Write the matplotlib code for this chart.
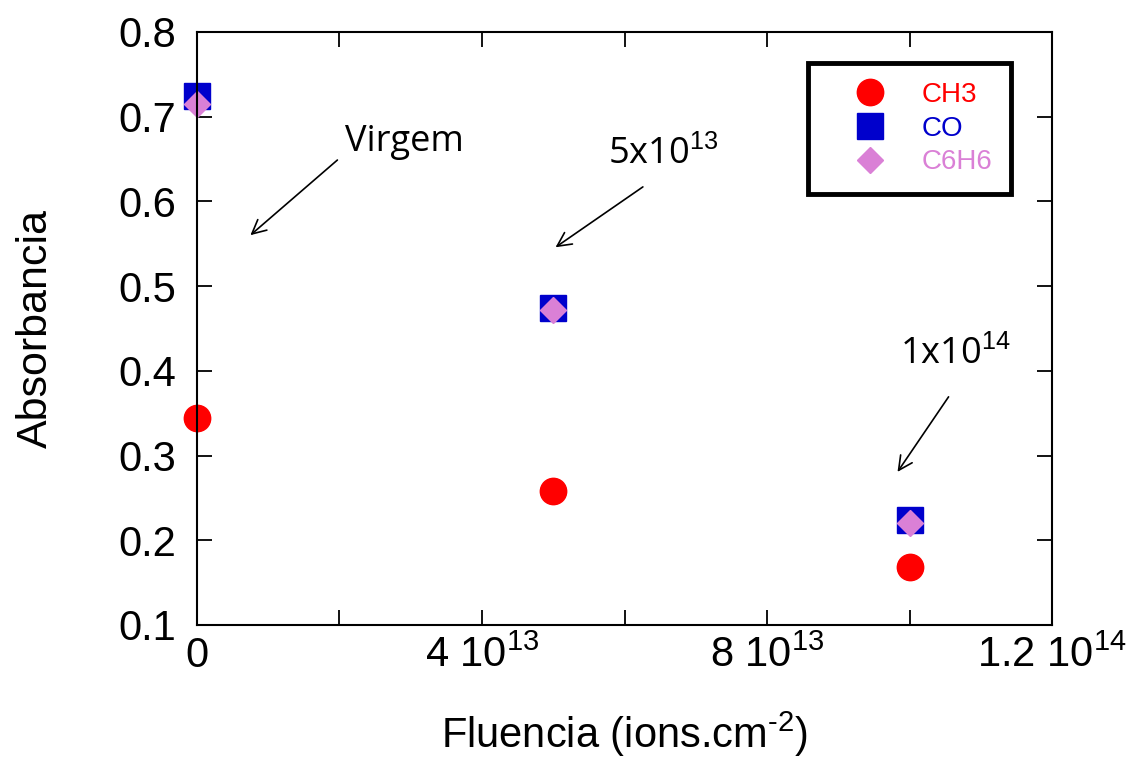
import matplotlib
matplotlib.use("Agg")
import matplotlib.pyplot as plt
from matplotlib import font_manager

names = {f.name for f in font_manager.fontManager.ttflist}
narrow = 'Liberation Sans Narrow' if 'Liberation Sans Narrow' in names else 'Liberation Sans'

# ---- data ----
fluence = [0.0, 5e13, 1e14]
ch3 = [0.344, 0.258, 0.168]
co = [0.724, 0.474, 0.224]
c6h6 = [0.715, 0.472, 0.220]
series_labels = ['CH3', 'CO', 'C6H6']
xtick_vals = [0, 2e13, 4e13, 6e13, 8e13, 1e14, 1.2e14]
xtick_labels = ['0', '', r'4 10$^{13}$', '', r'8 10$^{13}$', '', r'1.2 10$^{14}$']
ytick_vals = [0.1, 0.2, 0.3, 0.4, 0.5, 0.6, 0.7, 0.8]
ytick_labels = ['0.1', '0.2', '0.3', '0.4', '0.5', '0.6', '0.7', '0.8']
annotations = [
    ('Virgem', (7.2e12, 0.558), (2.0e13, 0.651), (2.08e13, 0.670)),
    (r'5x10$^{13}$', (5.0e13, 0.544), (6.29e13, 0.619), (5.77e13, 0.655)),
    (r'1x10$^{14}$', (9.81e13, 0.278), (1.057e14, 0.372), (9.87e13, 0.419)),
]

plt.rcParams['mathtext.fontset'] = 'custom'
plt.rcParams['mathtext.rm'] = narrow
plt.rcParams['mathtext.it'] = narrow

fig = plt.figure(figsize=(11.42, 7.58), dpi=100)
ax = fig.add_axes([0.1725, 0.1755, 0.7487, 0.7823])

ax.plot(fluence, ch3, 'o', color='#ff0000', markersize=19, label=series_labels[0], clip_on=False)
ax.plot(fluence, co, 's', color='#0000cc', markersize=19, label=series_labels[1], clip_on=False)
ax.plot(fluence, c6h6, 'D', color='#da80d6', markersize=13, label=series_labels[2], clip_on=False)

ax.set_xlim(0, 1.2e14)
ax.set_ylim(0.1, 0.8)
ax.set_xticks(xtick_vals)
ax.set_xticklabels(xtick_labels, fontfamily=narrow, fontsize=30)
ax.set_yticks(ytick_vals)
ax.set_yticklabels(ytick_labels, fontfamily=narrow, fontsize=30)
ax.tick_params(direction='in', length=11, width=1.3, top=True, right=True)
ax.tick_params(axis='y', pad=15)
ax.tick_params(axis='x', pad=8)
for s in ax.spines.values():
    s.set_linewidth(1.5)

ax.set_xlabel('Fluencia (ions.cm$^{\\text{-2}}$)', fontfamily=narrow, fontsize=30, labelpad=24)
ax.set_ylabel('Absorbancia', fontfamily=narrow, fontsize=31, labelpad=45)

for text, head, tail, tpos in annotations:
    ax.annotate('', xy=head, xytext=tail,
                arrowprops=dict(arrowstyle='->', color='black', lw=1.2, mutation_scale=25))
    ax.text(tpos[0], tpos[1], text, fontsize=26, fontfamily='Open Sans', va='center', ha='left')

leg = ax.legend(loc='upper left', bbox_to_anchor=(0.7146, 0.9477), borderaxespad=0,
                fancybox=False, edgecolor='black', framealpha=1,
                labelcolor=['#ff0000', '#0000cc', '#da80d6'],
                handletextpad=0.3, borderpad=0.68, labelspacing=0.28, markerscale=1.0,
                handlelength=3.1, prop={'family': narrow, 'size': 20})
leg.get_frame().set_linewidth(3.5)

fig.savefig('out.png', dpi=100)
